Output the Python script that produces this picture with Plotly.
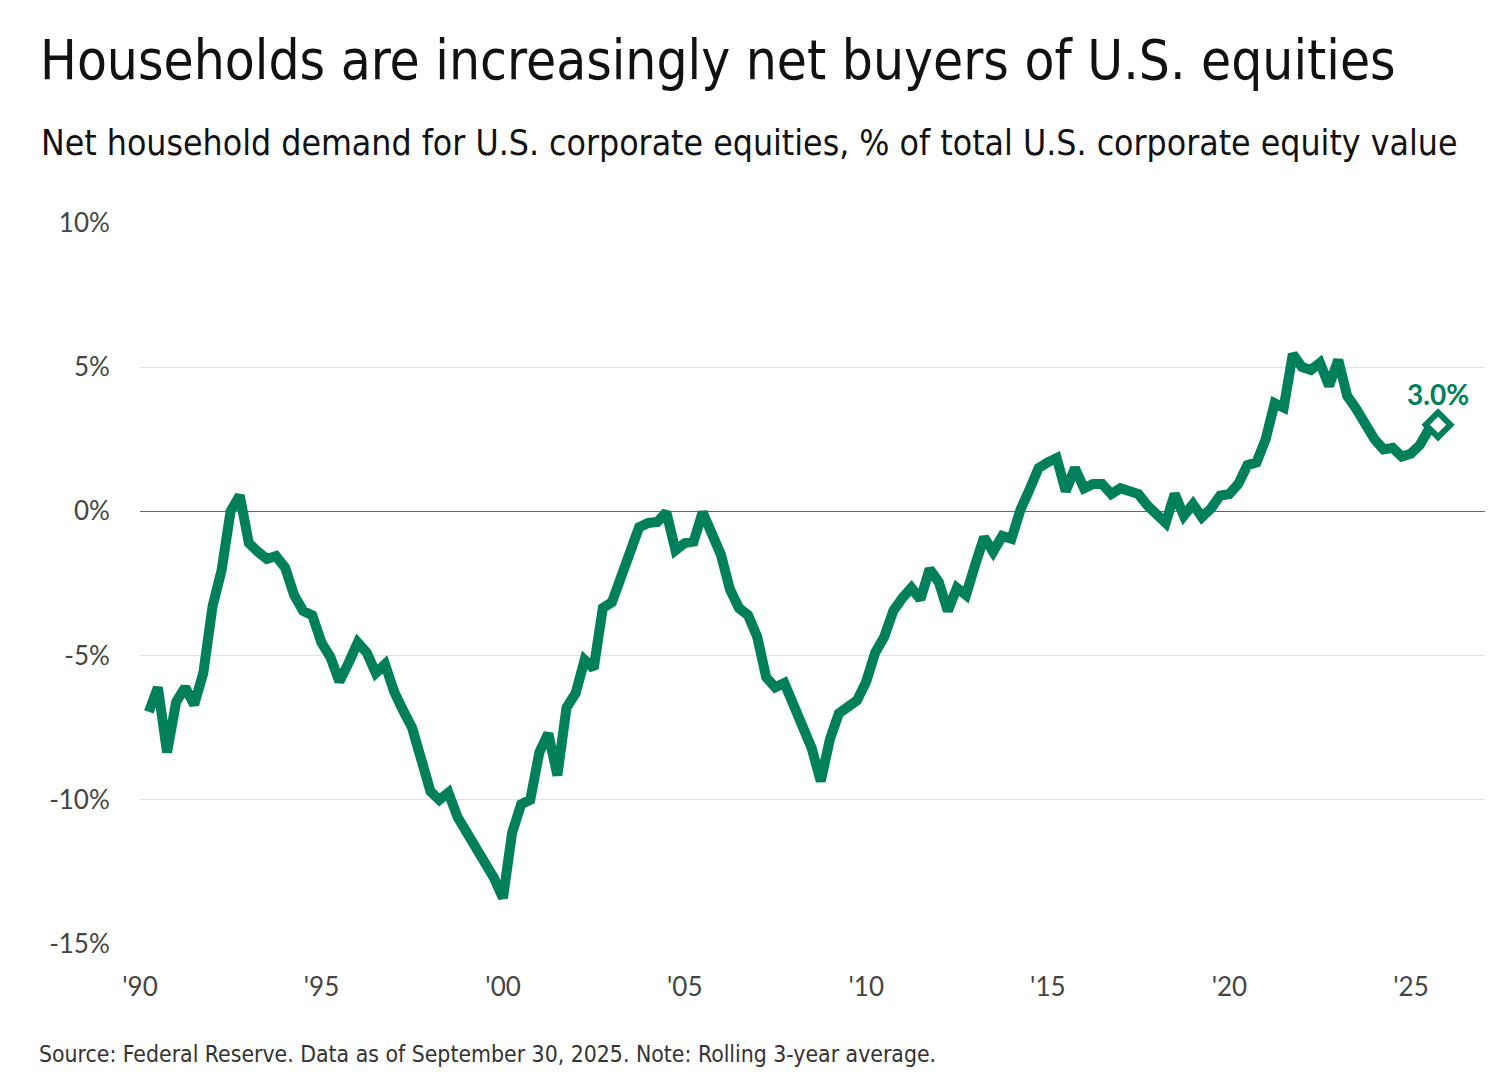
import plotly.graph_objects as go
import pandas as pd

# Quarterly values, 1990Q1 .. 2025Q3 (% of total U.S. corporate equity value)
values = [
    -6.95, -6.1, -8.35, -6.6,      # 1990
    -6.1, -6.7, -5.6, -3.3,        # 1991
    -2.05, 0.0, 0.55, -1.1,        # 1992
    -1.4, -1.65, -1.55, -1.95,     # 1993
    -2.9, -3.45, -3.6, -4.55,      # 1994
    -5.05, -5.9, -5.25, -4.55,     # 1995
    -4.9, -5.6, -5.3, -6.25,       # 1996
    -6.9, -7.5, -8.6, -9.7,        # 1997
    -10.0, -9.75, -10.6, -11.1,    # 1998
    -11.65, -12.05, -12.7, -13.4,  # 1999
    -11.15, -10.15, -10.0, -8.35,  # 2000
    -7.7, -9.15, -6.8, -6.3,       # 2001
    -5.15, -5.45, -3.35, -3.15,    # 2002
    -2.35, -1.55, -0.55, -0.4,     # 2003
    -0.37, -0.03, -1.35, -1.1,     # 2004
    -1.05, -0.03, -0.75, -1.5,     # 2005
    -2.7, -3.35, -3.6, -4.35,      # 2006
    -5.75, -6.1, -5.95, -6.7,      # 2007
    -7.6, -8.2, -9.35, -7.9,       # 2008
    -7.0, -6.75, -6.55, -5.9,      # 2009
    -4.9, -4.35, -3.45, -3.0,      # 2010
    -2.65, -3.05, -2.0, -2.45,     # 2011
    -3.45, -2.65, -2.9, -1.85,     # 2012
    -0.9, -1.4, -0.85, -0.95,      # 2013
    0.05, 0.75, 1.5, 1.7,          # 2014
    1.85, 0.7, 1.5, 0.8,           # 2015
    0.95, 0.95, 0.6, 0.8,          # 2016
    0.7, 0.6, 0.2, -0.05,          # 2017
    -0.4, 0.6, -0.15, 0.25,        # 2018
    -0.2, 0.1, 0.55, 0.6,          # 2019
    0.95, 1.6, 1.7, 2.5,           # 2020
    3.75, 3.6, 5.45, 5.0,          # 2021
    4.9, 5.15, 4.35, 5.25,         # 2022
    4.0, 3.55, 2.95, 2.5,          # 2023
    2.15, 2.2, 1.9, 2.0,           # 2024
    2.3, 2.85, 3.0,                # 2025
]
dates = pd.date_range("1990-03-31", periods=len(values), freq="QE")

tick_vals = [f"{y}-01-01" for y in range(1990, 2030, 5)]
tick_text = ["'90", "'95", "'00", "'05", "'10", "'15", "'20", "'25"]
y_ticks = [-15, -10, -5, 0, 5, 10]
y_text = ["-15%", "-10%", "-5%", "0%", "5%", "10%"]

title_text = "Households are increasingly net buyers of U.S. equities"
subtitle_text = "Net household demand for U.S. corporate equities, % of total U.S. corporate equity value"
source_text = "Source: Federal Reserve. Data as of September 30, 2025. Note: Rolling 3-year average."
last_label = "3.0%"

GREEN = "#00805A"
COND = "Liberation Sans Narrow, DejaVu Sans Condensed, sans-serif"
TICKF = "Lato, Open Sans, sans-serif"

fig = go.Figure()
fig.add_trace(go.Scatter(
    x=dates, y=values, mode="lines",
    line=dict(color=GREEN, width=10, shape="linear"),
    hoverinfo="skip", showlegend=False,
))
fig.add_trace(go.Scatter(
    x=[dates[-1]], y=[values[-1]], mode="markers+text",
    marker=dict(symbol="diamond", size=19, color="white",
                line=dict(color=GREEN, width=6)),
    text=[f"<b>{last_label}</b>"], textposition="top center",
    textfont=dict(family=TICKF, size=28, color=GREEN),
    hoverinfo="skip", showlegend=False,
))

L, R, T, B = 140, 19, 222, 141
W, H = 1504, 1086
pw, ph = W - L - R, H - T - B

def px2paper(px, py):
    return (px - L) / pw, (H - B - py) / ph

ann = []
for txt, px, py, size, col in [
    (title_text, 38, 60, 54.5, "#111111"),
    (subtitle_text, 39, 143, 35.3, "#111111"),
    (source_text, 37, 1054, 22.8, "#333333"),
]:
    ax, ay = px2paper(px, py)
    ann.append(dict(text=txt, x=ax, y=ay, xref="paper", yref="paper",
                    showarrow=False, xanchor="left", yanchor="middle",
                    font=dict(family=COND, size=size, color=col)))

fig.update_layout(
    width=W, height=H,
    paper_bgcolor="white", plot_bgcolor="white",
    margin=dict(l=L, r=R, t=T, b=B),
    annotations=ann,
)

fig.update_xaxes(
    type="date", range=["1990-01-01", "2027-01-15"],
    tickvals=tick_vals, ticktext=tick_text,
    showgrid=False, zeroline=False, showline=False,
    ticks="outside", ticklen=19, tickcolor="rgba(0,0,0,0)",
    tickfont=dict(family=TICKF, size=26, color="#444444"),
)
fig.update_yaxes(
    range=[-15.03, 10.03], tickvals=y_ticks, ticktext=y_text,
    showgrid=True, gridcolor="#e3e3e3", gridwidth=1,
    zeroline=True, zerolinecolor="#666666", zerolinewidth=1,
    showline=False,
    ticks="outside", ticklen=24, tickcolor="rgba(0,0,0,0)",
    tickfont=dict(family=TICKF, size=26, color="#444444"),
)

fig.write_html("out.html")
